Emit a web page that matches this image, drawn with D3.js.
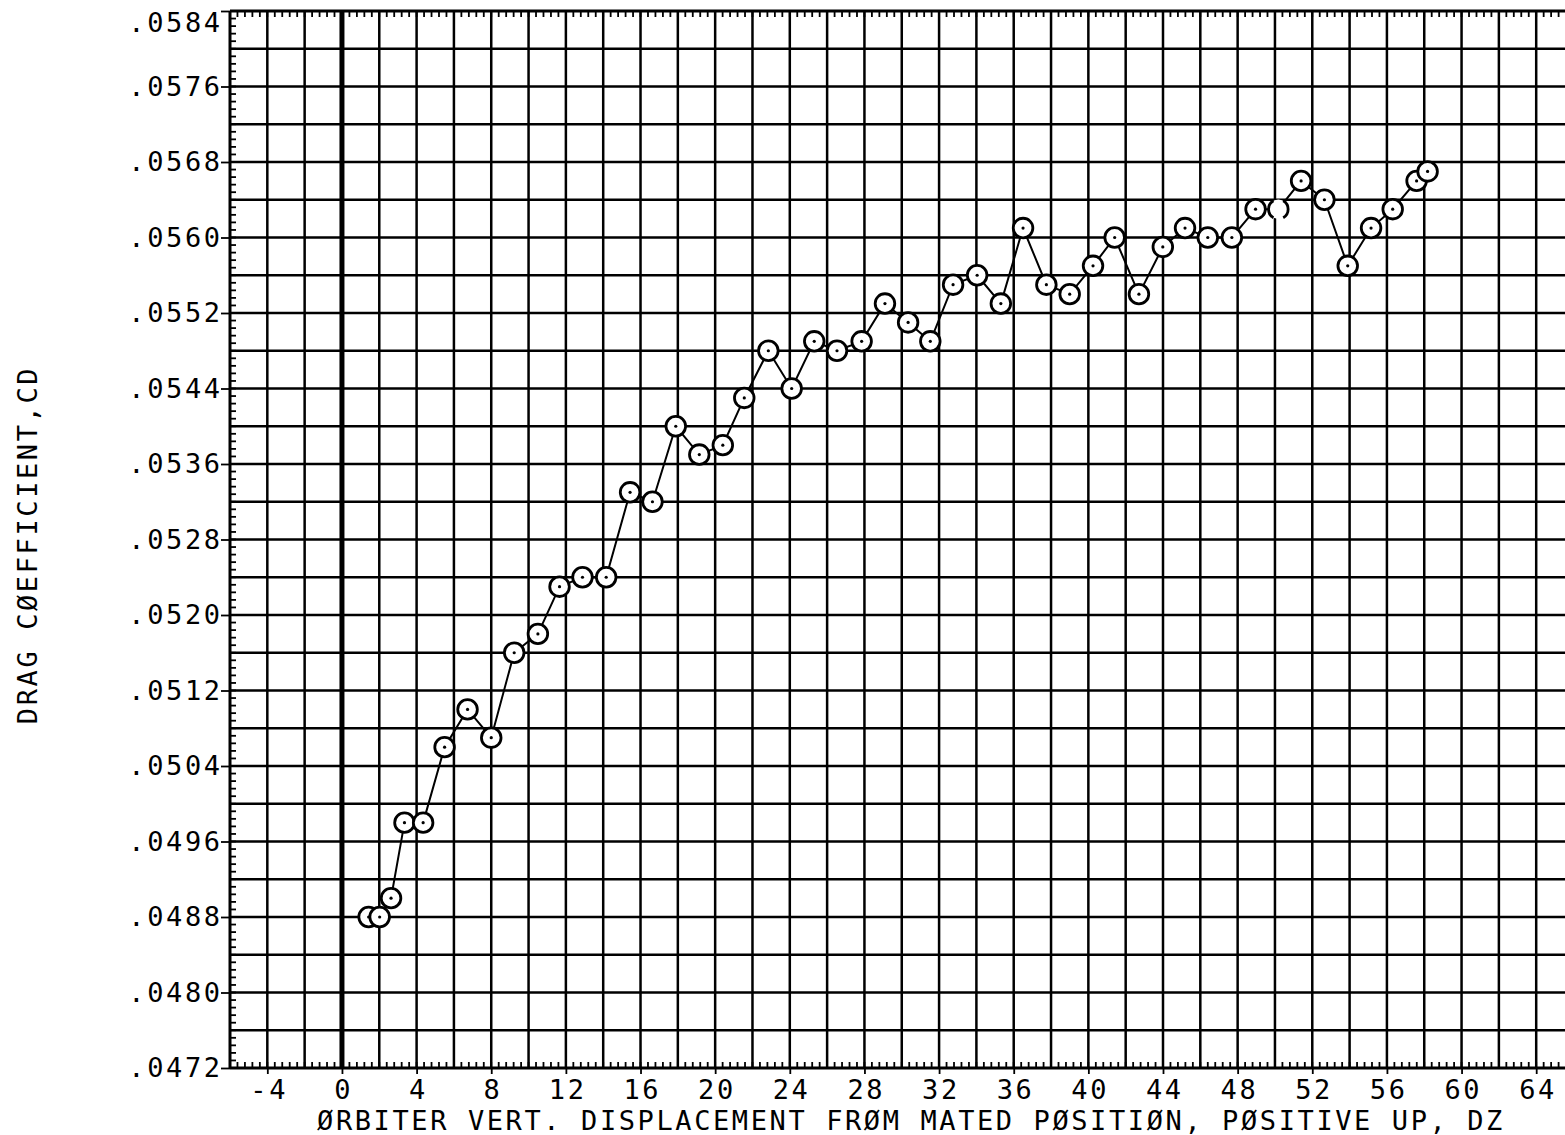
<!DOCTYPE html>
<html>
<head>
<meta charset="utf-8">
<script src="https://cdn.jsdelivr.net/npm/d3@7"></script>
<style>
  html, body { margin: 0; padding: 0; background: #fff; }
  svg { display: block; }
  text { font-family: "DejaVu Sans Mono", monospace; fill: #000; }
</style>
</head>
<body>
<svg id="chart" width="1565" height="1135"></svg>
<script>
// ---- data ----
const dzValues = [1.43, 2.02, 2.63, 3.35, 4.35, 5.50, 6.73, 8.00, 9.23, 10.50,
  11.66, 12.89, 14.16, 15.44, 16.64, 17.89, 19.15, 20.41, 21.56, 22.85,
  24.10, 25.31, 26.53, 27.85, 29.10, 30.34, 31.53, 32.75, 34.04, 35.31,
  36.50, 37.75, 39.00, 40.25, 41.41, 42.71, 43.99, 45.18, 46.40, 47.69,
  48.96, 50.18, 51.40, 52.65, 53.90, 55.15, 56.31, 57.59, 58.18];
const cdValues = [0.0488, 0.0488, 0.0490, 0.0498, 0.0498, 0.0506, 0.0510, 0.0507, 0.0516, 0.0518,
  0.0523, 0.0524, 0.0524, 0.0533, 0.0532, 0.0540, 0.0537, 0.0538, 0.0543, 0.0548,
  0.0544, 0.0549, 0.0548, 0.0549, 0.0553, 0.0551, 0.0549, 0.0555, 0.0556, 0.0553,
  0.0561, 0.0555, 0.0554, 0.0557, 0.0560, 0.0554, 0.0559, 0.0561, 0.0560, 0.0560,
  0.0563, 0.0563, 0.0566, 0.0564, 0.0557, 0.0561, 0.0563, 0.0566, 0.0567];
// point drawn only partially by the plotter
const brokenPoints = [41];
const xTickValues = [-4, 0, 4, 8, 12, 16, 20, 24, 28, 32, 36, 40, 44, 48, 52, 56, 60, 64];
const yTickValues = [0.0584, 0.0576, 0.0568, 0.0560, 0.0552, 0.0544, 0.0536, 0.0528,
  0.0520, 0.0512, 0.0504, 0.0496, 0.0488, 0.0480, 0.0472];
const xTitle = "ØRBITER VERT. DISPLACEMENT FRØM MATED PØSITIØN, PØSITIVE UP, DZ";
const yTitle = "DRAG CØEFFICIENT,CD";

// ---- layout ----
const svg = d3.select("#chart");
const x = d3.scaleLinear().domain([-6, 66]).range([230, 230 + 72 * 18.66]);
const y = d3.scaleLinear().domain([0.0472, 0.0584]).range([1068, 11]);
const x0 = x(-6), x1 = x(66), yTop = y(0.0584), yBot = y(0.0472);

const fontSize = 27, spacing = 2.6;

// grid
const g = svg.append("g");
const vLines = d3.range(-6, 67, 2);
g.selectAll(".vl").data(vLines).join("line")
  .attr("x1", d => x(d)).attr("x2", d => x(d))
  .attr("y1", yTop).attr("y2", yBot)
  .attr("stroke", "#000")
  .attr("stroke-width", d => d === 0 ? 5 : (d === -6 ? 3 : 2.5));
const hLines = d3.range(0, 29).map(i => 0.0472 + i * 0.0004);
g.selectAll(".hl").data(hLines).join("line")
  .attr("x1", x0).attr("x2", x1)
  .attr("y1", d => y(d)).attr("y2", d => y(d))
  .attr("stroke", "#000")
  .attr("stroke-width", (d, i) => (i === 0 || i === 28) ? 3 : 2.7);

// minor inside ticks: top and bottom every 0.4, left every .00008
const xMinor = d3.range(0, 181).map(i => -6 + i * 0.4);
g.selectAll(".tb").data(xMinor).join("line")
  .attr("x1", d => x(d)).attr("x2", d => x(d))
  .attr("y1", yBot).attr("y2", yBot - 6)
  .attr("stroke", "#000").attr("stroke-width", 1.8);
g.selectAll(".tt").data(xMinor).join("line")
  .attr("x1", d => x(d)).attr("x2", d => x(d))
  .attr("y1", yTop).attr("y2", yTop + 6)
  .attr("stroke", "#000").attr("stroke-width", 1.8);
const yMinor = d3.range(0, 141).map(i => 0.0472 + i * 0.00008);
g.selectAll(".tl").data(yMinor).join("line")
  .attr("x1", x0).attr("x2", x0 + 6)
  .attr("y1", d => y(d)).attr("y2", d => y(d))
  .attr("stroke", "#000").attr("stroke-width", 1.8);

// axes (labels + outer major ticks)
const fmtCd = d => d3.format(".4f")(d).replace(/^0/, "");
const yAxis = svg.append("g").attr("transform", `translate(${x0},0)`)
  .call(d3.axisLeft(y).tickValues(yTickValues).tickFormat(fmtCd).tickSize(9).tickPadding(1));
yAxis.select(".domain").remove();
yAxis.selectAll(".tick line").attr("stroke", "#000").attr("stroke-width", 1.8);
yAxis.selectAll(".tick text")
  .attr("font-size", fontSize).attr("letter-spacing", spacing)
  .attr("dx", spacing)
  .attr("y", d => Math.max(0, 23 - y(d)))
  .style("font-family", "'DejaVu Sans Mono', monospace");

const xAxis = svg.append("g").attr("transform", `translate(0,${yBot})`)
  .call(d3.axisBottom(x).tickValues(xTickValues).tickFormat(d => d < 0 ? "-" + Math.abs(d) : String(d)).tickSize(6).tickPadding(6));
xAxis.select(".domain").remove();
xAxis.selectAll(".tick line").attr("stroke", "#000").attr("stroke-width", 1.8);
xAxis.selectAll(".tick text")
  .attr("font-size", fontSize).attr("letter-spacing", spacing)
  .attr("dx", spacing / 2)
  .style("font-family", "'DejaVu Sans Mono', monospace");

// titles
svg.append("text")
  .attr("x", 911).attr("y", 1120)
  .attr("text-anchor", "middle").attr("dominant-baseline", "central")
  .attr("font-size", fontSize).attr("letter-spacing", 2.6)
  .text(xTitle);
svg.append("text")
  .attr("transform", "translate(27,545) rotate(-90)")
  .attr("text-anchor", "middle").attr("dominant-baseline", "central")
  .attr("font-size", fontSize).attr("letter-spacing", 2.6)
  .text(yTitle);

// data line and markers
const pts = dzValues.map((d, i) => ({ dz: d, cd: cdValues[i], i }));
svg.append("path").datum(pts)
  .attr("fill", "none").attr("stroke", "#000").attr("stroke-width", 2)
  .attr("d", d3.line().x(d => x(d.dz)).y(d => y(d.cd)));
const r = 9.8;
const mk = svg.append("g");
const whole = pts.filter(d => !brokenPoints.includes(d.i));
const broken = pts.filter(d => brokenPoints.includes(d.i));
mk.selectAll("circle.m").data(whole).join("circle")
  .attr("cx", d => x(d.dz)).attr("cy", d => y(d.cd)).attr("r", r)
  .attr("fill", "#fff").attr("stroke", "#000").attr("stroke-width", 2.8);
mk.selectAll("circle.bg").data(broken).join("circle")
  .attr("cx", d => x(d.dz)).attr("cy", d => y(d.cd)).attr("r", r)
  .attr("fill", "#fff").attr("stroke", "none");
mk.selectAll("path.b").data(broken).join("path")
  .attr("fill", "none").attr("stroke", "#000").attr("stroke-width", 2.8)
  .attr("d", d => {
    const cx = x(d.dz), cy = y(d.cd), p = d3.path();
    p.moveTo(cx + r * Math.cos(-Math.PI / 3), cy + r * Math.sin(-Math.PI / 3));
    p.arc(cx, cy, r, -Math.PI / 3, Math.PI / 3);
    p.moveTo(cx + r * Math.cos(2 * Math.PI / 3), cy + r * Math.sin(2 * Math.PI / 3));
    p.arc(cx, cy, r, 2 * Math.PI / 3, 4 * Math.PI / 3);
    return p.toString();
  });
mk.selectAll("circle.dot").data(whole).join("circle")
  .attr("cx", d => x(d.dz)).attr("cy", d => y(d.cd)).attr("r", 1.6)
  .attr("fill", "#000");
</script>
</body>
</html>
